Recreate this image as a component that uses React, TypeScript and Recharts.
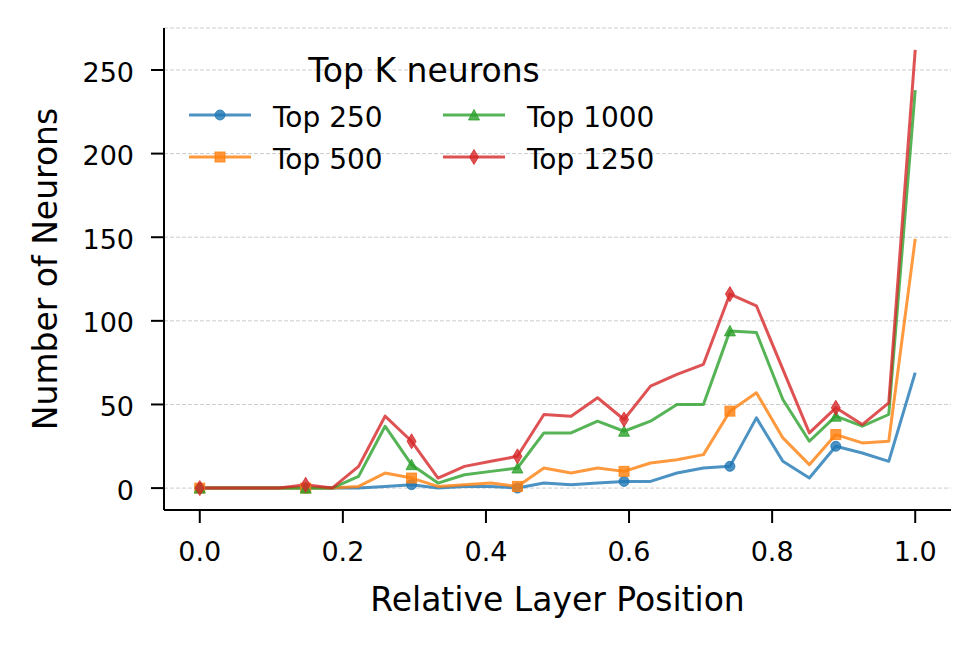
import { LineChart, Line, XAxis, YAxis, CartesianGrid, Legend } from 'recharts';

const FONT = '"DejaVu Sans", "Liberation Sans", sans-serif';

// relative layer position (layer index / 27)
const layerPos = [
  0, 0.037, 0.074, 0.111, 0.148, 0.185, 0.222, 0.259, 0.296, 0.333, 0.37, 0.407, 0.444, 0.481,
  0.519, 0.556, 0.593, 0.63, 0.667, 0.704, 0.741, 0.778, 0.815, 0.852, 0.889, 0.926, 0.963, 1.0,
];

const top250 = [0, 0, 0, 0, 0, 0, 0, 1, 2, 0, 1, 1, 0, 3, 2, 3, 4, 4, 9, 12, 13, 42, 16, 6, 25, 21, 16, 69];
const top500 = [0, 0, 0, 0, 0, 0, 1, 9, 6, 1, 2, 3, 1, 12, 9, 12, 10, 15, 17, 20, 46, 57, 30, 14, 32, 27, 28, 149];
const top1000 = [0, 0, 0, 0, 0, 0, 7, 37, 14, 3, 8, 10, 12, 33, 33, 40, 34, 40, 50, 50, 94, 93, 53, 28, 43, 37, 44, 238];
const top1250 = [0, 0, 0, 0, 2, 0, 13, 43, 28, 6, 13, 16, 19, 44, 43, 54, 41, 61, 68, 74, 116, 109, 71, 33, 48, 38, 51, 262];

const xTicks = [0, 0.2, 0.4, 0.6, 0.8, 1.0];
const yTicks = [0, 50, 100, 150, 200, 250];

const series = [
  { key: 'top250', name: 'Top 250', color: '#1f77b4', shape: 'circle', values: top250 },
  { key: 'top500', name: 'Top 500', color: '#ff7f0e', shape: 'square', values: top500 },
  { key: 'top1000', name: 'Top 1000', color: '#2ca02c', shape: 'triangle', values: top1000 },
  { key: 'top1250', name: 'Top 1250', color: '#d62728', shape: 'diamond', values: top1250 },
];

const data = layerPos.map((x, i) => {
  const row: any = { x };
  series.forEach(s => { row[s.key] = s.values[i]; });
  return row;
});

const Marker = ({ shape, x, y, color }: { shape: string; x: number; y: number; color: string }) => {
  const common = { fill: color, fillOpacity: 0.8, stroke: color, strokeOpacity: 0.8, strokeWidth: 1 };
  if (shape === 'circle') return <circle cx={x} cy={y} r={5} {...common} />;
  if (shape === 'square') return <rect x={x - 5} y={y - 5} width={10} height={10} {...common} />;
  if (shape === 'triangle')
    return <polygon points={`${x},${y - 5.5} ${x - 5.5},${y + 5} ${x + 5.5},${y + 5}`} {...common} />;
  return <polygon points={`${x},${y - 7.5} ${x + 4.5},${y} ${x},${y + 7.5} ${x - 4.5},${y}`} {...common} />;
};

// markers on every 4th layer
const makeDot = (shape: string, color: string) => (props: any) => {
  const { cx, cy, index } = props;
  if (index % 4 !== 0 || cx == null || cy == null) return <g key={`e-${index}`} />;
  return <Marker key={`m-${index}`} shape={shape} x={cx} y={cy} color={color} />;
};

const LegendBox = () => (
  <svg width={980} height={200} style={{ position: 'absolute', left: 0, top: 0, overflow: 'visible' }}>
    <text x={424} y={82} textAnchor="middle" fontSize={33} fontFamily={FONT} fill="#000">
      Top K neurons
    </text>
    {series.map((s, i) => {
      const col = i < 2 ? 0 : 1;
      const row = i % 2;
      const lx = col === 0 ? 189 : 443;
      const ly = row === 0 ? 115 : 157;
      return (
        <g key={s.key}>
          <line x1={lx} x2={lx + 62} y1={ly} y2={ly} stroke={s.color} strokeOpacity={0.8} strokeWidth={3} />
          <Marker shape={s.shape} x={lx + 31} y={ly} color={s.color} />
          <text x={lx + 84} y={ly + 12} fontSize={28} fontFamily={FONT} fill="#000">
            {s.name}
          </text>
        </g>
      );
    })}
  </svg>
);

export default function App() {
  return (
    <div style={{ position: 'absolute', left: 0, top: 0, width: 980, height: 648, background: '#fff' }}>
      <LineChart width={980} height={648} data={data} margin={{ top: 28, right: 29, left: 0, bottom: 0 }}>
        <CartesianGrid vertical={false} stroke="#cccccc" strokeDasharray="4 2" strokeWidth={1} />
        <XAxis
          dataKey="x"
          type="number"
          domain={[-0.05, 1.05]}
          ticks={xTicks}
          allowDataOverflow
          height={138}
          tickSize={13}
          tickMargin={19}
          tickFormatter={(v: number) => v.toFixed(1)}
          axisLine={{ stroke: '#000', strokeWidth: 2 }}
          tickLine={{ stroke: '#000', strokeWidth: 2 }}
          tick={{ fill: '#000', fontSize: 27, fontFamily: FONT }}
          label={(p: any) => {
            const vb = p.viewBox || { x: 164, y: 510, width: 787 };
            return (
              <text x={vb.x + vb.width / 2} y={vb.y + 101} textAnchor="middle" fontSize={33} fontFamily={FONT} fill="#000">
                Relative Layer Position
              </text>
            );
          }}
        />
        <YAxis
          type="number"
          domain={[-13.1, 275.1]}
          ticks={yTicks}
          allowDataOverflow
          width={164}
          tickSize={13}
          tickMargin={17}
          axisLine={{ stroke: '#000', strokeWidth: 2 }}
          tickLine={{ stroke: '#000', strokeWidth: 2 }}
          tick={{ fill: '#000', fontSize: 27, fontFamily: FONT, dy: 2 }}
          label={(p: any) => {
            const vb = p.viewBox || { x: 0, y: 28, height: 482 };
            const cy = vb.y + vb.height / 2;
            return (
              <text x={57} y={cy} transform={`rotate(-90, 57, ${cy})`} textAnchor="middle" fontSize={33} fontFamily={FONT} fill="#000">
                Number of Neurons
              </text>
            );
          }}
        />
        <Legend
          layout="vertical"
          align="center"
          verticalAlign="middle"
          wrapperStyle={{ left: 0, top: 0, width: 980, height: 200 }}
          content={() => <LegendBox />}
        />
        {series.map(s => (
          <Line
            key={s.key}
            dataKey={s.key}
            name={s.name}
            type="linear"
            stroke={s.color}
            strokeOpacity={0.8}
            strokeWidth={3}
            strokeLinejoin="round"
            dot={makeDot(s.shape, s.color)}
            activeDot={false}
            isAnimationActive={false}
          />
        ))}
      </LineChart>
    </div>
  );
}
